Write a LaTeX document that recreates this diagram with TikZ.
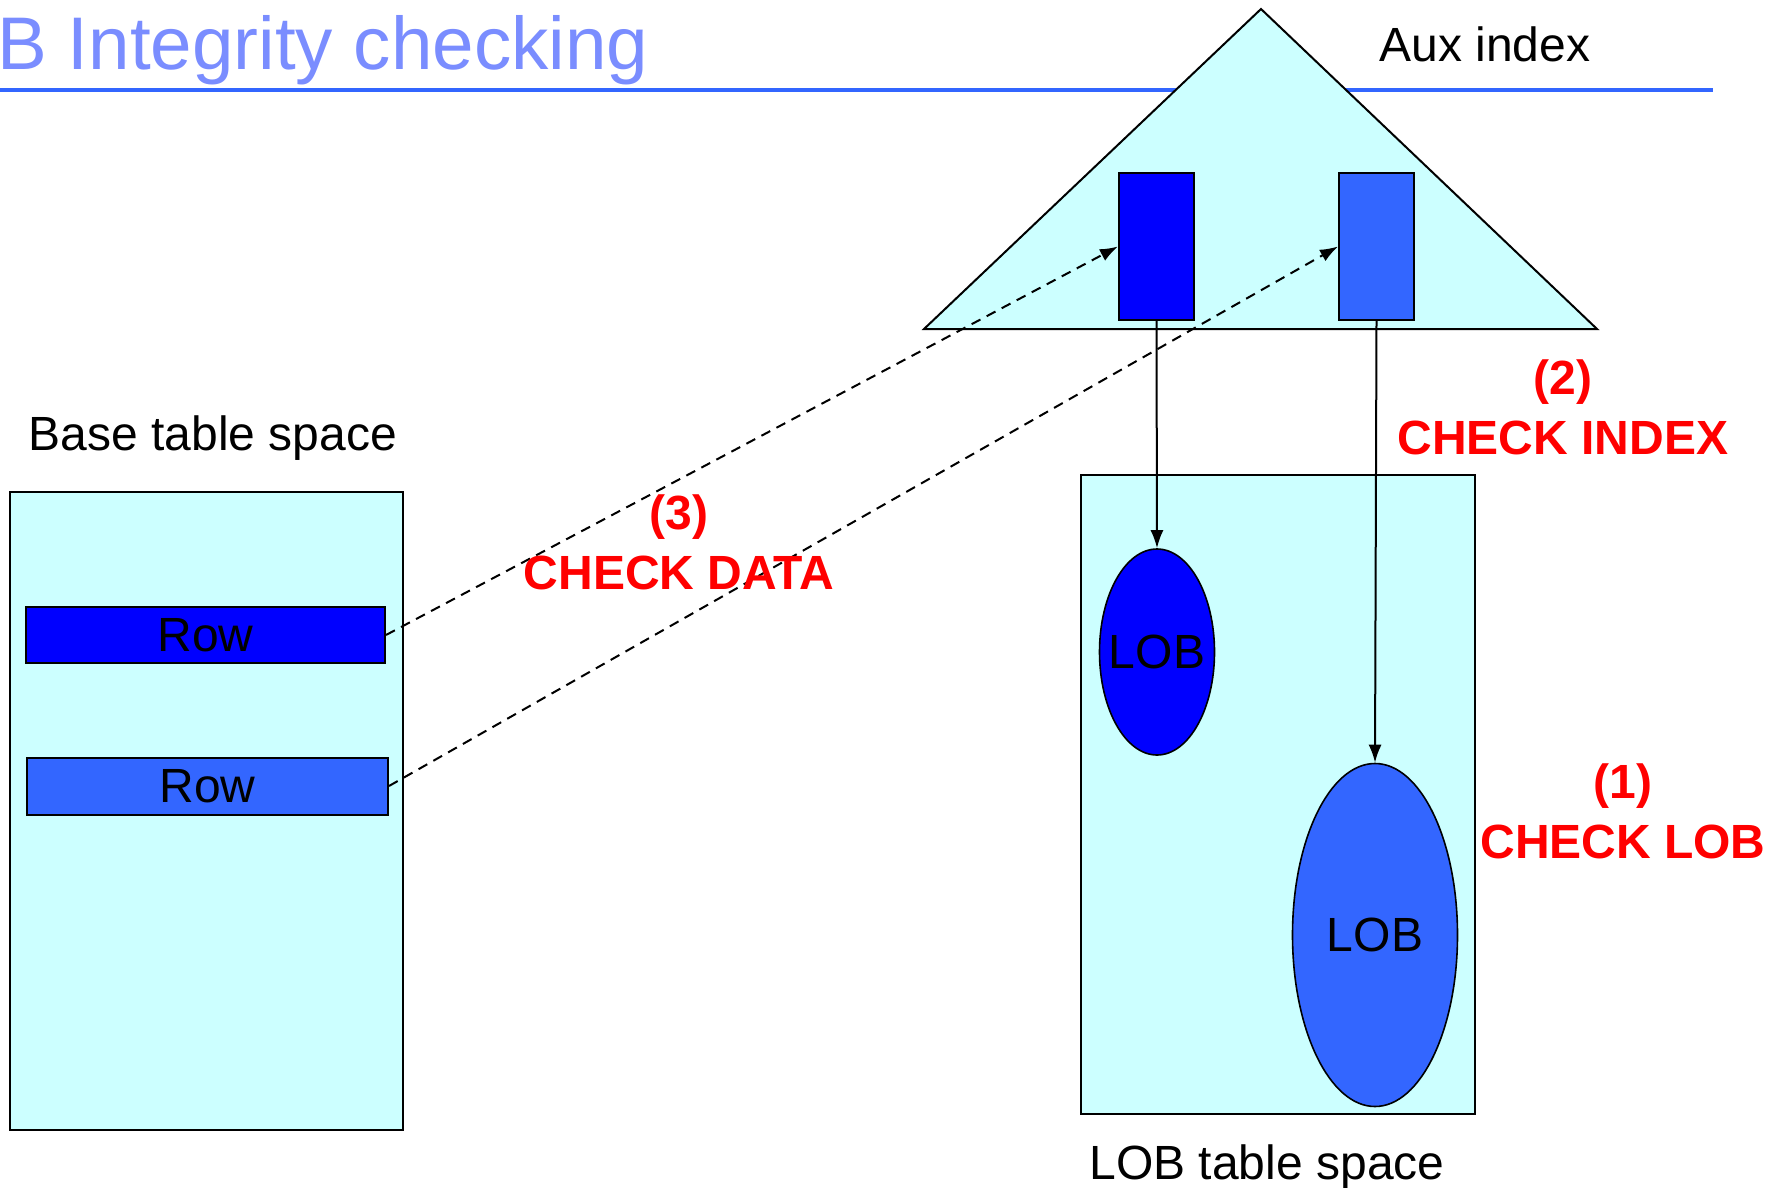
\documentclass[tikz,border=0pt]{standalone}
\usepackage{fontspec}
\setmainfont{Liberation Sans}
\usetikzlibrary{arrows.meta,shapes.geometric}

\definecolor{titleblue}{RGB}{122,141,255}
\definecolor{ruleblue}{RGB}{51,102,255}
\definecolor{paleaqua}{RGB}{204,255,255}
\definecolor{deepblue}{RGB}{0,0,255}
\definecolor{midblue}{RGB}{51,102,255}
\definecolor{alertred}{RGB}{255,0,0}

\tikzset{
  space/.style={draw=black, line width=1pt, fill=paleaqua, inner sep=0pt},
  rowbox/.style={draw=black, line width=1pt, inner sep=0pt,
    minimum height=28pt, font=\fontsize{24}{26}\selectfont},
  idxbox/.style={draw=black, line width=1pt, inner sep=0pt,
    minimum width=37.5pt, minimum height=73.5pt},
  lobshape/.style={ellipse, draw=black, line width=0.8pt, inner sep=0pt,
    font=\fontsize{24}{26}\selectfont},
  caption/.style={inner sep=0pt, font=\fontsize{24}{28}\selectfont},
  steplabel/.style={inner sep=0pt, align=center, text=alertred,
    font=\fontsize{24}{30}\selectfont\bfseries},
  link/.style={line width=1pt, -{Latex[length=9pt,width=6.5pt]}},
  datalink/.style={link, dashed, dash pattern=on 5pt off 3.5pt},
}

\begin{document}
\begin{tikzpicture}[x=0.5pt, y=-0.5pt]
  \useasboundingbox (0,0) rectangle (1772,1188);

  % title and rule
  \node[anchor=base west, inner sep=0pt, text=titleblue,
        font=\fontsize{37.3}{40}\selectfont] (title) at (-3,70) {B Integrity checking};
  \draw[ruleblue, line width=1.6pt] (0,90) -- (1713,90);

  % auxiliary index tree
  \draw[line width=1pt, fill=paleaqua] (1261,9) -- (924,329) -- (1597,329) -- cycle;
  \node[caption, anchor=base] (auxlbl) at (1485,62) {Aux index};
  \node[idxbox, fill=deepblue] (ix1) at (1156.5,246.5) {};
  \node[idxbox, fill=midblue]  (ix2) at (1376.5,246.5) {};

  % base table space
  \node[caption, anchor=base] (baselbl) at (213,450) {Base table space};
  \node[space, minimum width=196.5pt, minimum height=319pt] (base) at (206.5,811) {};
  \node[rowbox, fill=deepblue, minimum width=179.5pt] (row1) at (205.5,635) {Row};
  \node[rowbox, fill=midblue, minimum width=180.5pt, minimum height=28.5pt] (row2) at (207.5,786) {Row};

  % LOB table space
  \node[space, minimum width=197pt, minimum height=319.5pt] (lobspace) at (1278,794.5) {};
  \node[caption, anchor=base] (loblbl) at (1267,1179) {LOB table space};
  \node[lobshape, fill=deepblue, minimum width=57.5pt, minimum height=103pt] (lob1) at (1157,652) {\makebox[0pt]{LOB}};
  \node[lobshape, fill=midblue, minimum width=82.5pt, minimum height=171.5pt] (lob2) at (1375,935) {\makebox[0pt]{LOB}};

  % connectors
  \draw[link] (ix1.south) -- (lob1.north);
  \draw[link] (ix2.south) -- (lob2.north);
  \draw[datalink] (row1.east) -- (ix1.west);
  \draw[datalink] (row2.east) -- (ix2.west);

  % check steps
  \node[steplabel] (step3) at (679,542.5) {(3)\\CHECK DATA};
  \node[steplabel] (step2) at (1563,407.5) {(2)\\CHECK INDEX};
  \node[steplabel] (step1) at (1623,811.5) {(1)\\CHECK LOB};
\end{tikzpicture}
\end{document}
